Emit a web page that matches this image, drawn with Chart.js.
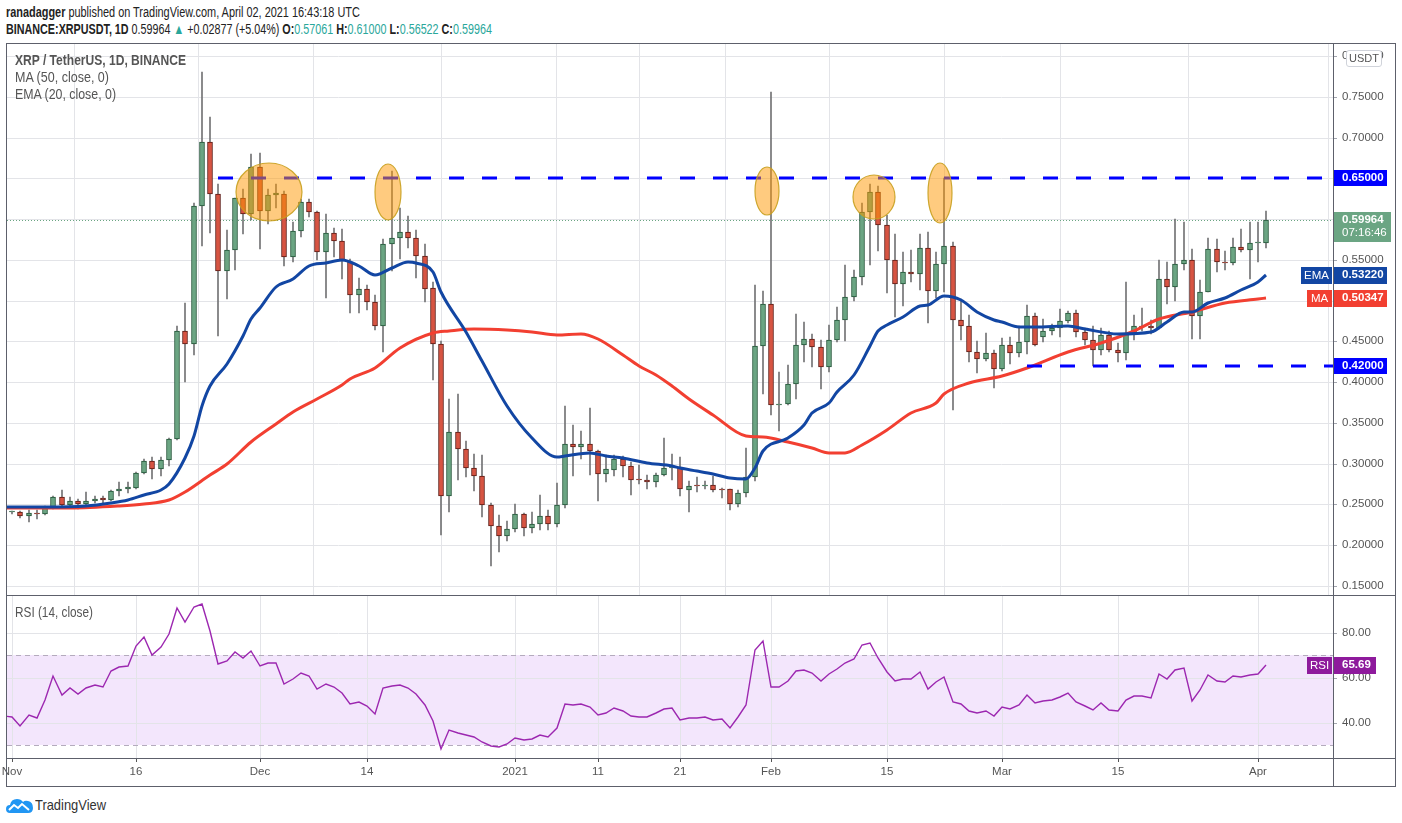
<!DOCTYPE html>
<html>
<head>
<meta charset="utf-8">
<script src="https://cdn.jsdelivr.net/npm/chart.js@4.4.1/dist/chart.umd.min.js"></script>
<style>
html, body { margin: 0; padding: 0; background: #fff; }
body { width: 1402px; height: 823px; position: relative; overflow: hidden;
  font-family: "Liberation Sans", Arial, sans-serif; color: #333; }
#head { position: absolute; left: 6px; top: 4px; font-size: 14px; line-height: 17px; color: #222; white-space: nowrap; }
#head div { display: inline-block; transform-origin: 0 0; }
.b { font-weight: bold; }
.t { color: #2aa79b; }
canvas { position: absolute; left: 0; }
#main { top: 44px; }
#rsi { top: 596px; }
.ln { position: absolute; background: #5d606b; }
.lbl { position: absolute; left: 15px; font-size: 14px; line-height: 17px; color: #555; white-space: nowrap; transform-origin: 0 0; }
#usdt { position: absolute; left: 1346px; top: 50px; width: 34px; height: 15px; border: 1px solid #d0d3da; border-radius: 3px;
  background: #fff; font: 11px "Liberation Sans", sans-serif; color: #555; text-align: center; line-height: 15px; }
#logo { position: absolute; left: 6px; top: 796px; font-size: 15px; color: #333; line-height: 17px; }
#logo svg { vertical-align: -3px; margin-right: 2px; }
#logo span { display: inline-block; transform-origin: 0 0; }
</style>
</head>
<body>
<div id="head">
  <div data-w="354"><span class="b">ranadagger</span> published on TradingView.com, April 02, 2021 16:43:18 UTC</div><br>
  <div data-w="486"><span class="b">BINANCE:XRPUSDT, 1D</span> 0.59964 <span class="t">▲</span> +0.02877 (+5.04%) <span class="b">O:</span><span class="t">0.57061</span> <span class="b">H:</span><span class="t">0.61000</span> <span class="b">L:</span><span class="t">0.56522</span> <span class="b">C:</span><span class="t">0.59964</span></div>
</div>

<canvas id="main" width="1402" height="552"></canvas>
<canvas id="rsi" width="1402" height="190"></canvas>

<div class="ln" style="left:6px;top:43px;width:1390px;height:1px"></div>
<div class="ln" style="left:6px;top:786px;width:1390px;height:1px"></div>
<div class="ln" style="left:6px;top:43px;width:1px;height:744px"></div>
<div class="ln" style="left:1395px;top:43px;width:1px;height:744px"></div>
<div class="ln" style="left:1333px;top:43px;width:1px;height:744px"></div>
<div class="ln" style="left:6px;top:595px;width:1390px;height:1px"></div>
<div class="ln" style="left:6px;top:758px;width:1390px;height:1px"></div>

<div class="lbl b" data-w="171" style="top:52px">XRP / TetherUS, 1D, BINANCE</div>
<div class="lbl" data-w="94" style="top:69px">MA (50, close, 0)</div>
<div class="lbl" data-w="101" style="top:86px">EMA (20, close, 0)</div>
<div class="lbl" data-w="78" style="top:604px">RSI (14, close)</div>
<div id="usdt">USDT</div>
<div id="logo"><svg width="27" height="16" viewBox="0 0 27 16"><path d="M4 16 Q0 16 0 12 Q0 8 4 8 Q5 2 11 2 Q15 2 17 5 Q19 3 22 4 Q27 5 27 11 Q27 16 22 16 Z" fill="#2196f3"/><path d="M3 13 L8 8 L12 11 L16 7 L23 13" stroke="#fff" stroke-width="2" fill="none"/></svg><span data-w="71">TradingView</span></div>

<script>
// days counted from Nov 1 2020 (= 0); Apr 2 2021 = 152
const opens = [
  0.2402, 0.2407, 0.2360, 0.2398, 0.2385, 0.2459, 0.2592, 0.2489, 0.2545, 0.2502,
  0.2541, 0.2575, 0.2557, 0.2665, 0.2695, 0.2704, 0.2889, 0.3039, 0.2932, 0.3048,
  0.3306, 0.4630, 0.4467, 0.6157, 0.6943, 0.6307, 0.5361, 0.5628, 0.6255, 0.6062,
  0.6642, 0.6105, 0.6294, 0.6307, 0.5533, 0.5851, 0.6208, 0.6083, 0.5598, 0.5834,
  0.5735, 0.5481, 0.5069, 0.5142, 0.4983, 0.4690, 0.5692, 0.5770, 0.5843, 0.5770,
  0.5554, 0.5155, 0.4467, 0.2600, 0.3392, 0.3181, 0.2949, 0.2846, 0.2493, 0.2231,
  0.2115, 0.2201, 0.2385, 0.2213, 0.2261, 0.2360, 0.2261, 0.2493, 0.3241, 0.3202,
  0.3241, 0.3155, 0.2876, 0.2919, 0.3061, 0.2974, 0.2811, 0.2802, 0.2777, 0.2863,
  0.2949, 0.2962, 0.2678, 0.2725, 0.2725, 0.2738, 0.2691, 0.2691, 0.2502, 0.2643,
  0.2833, 0.4445, 0.4961, 0.3718, 0.3727, 0.3976, 0.4458, 0.4531, 0.4428, 0.4187,
  0.4514, 0.4768, 0.5047, 0.5288, 0.6092, 0.6337, 0.5929, 0.5499, 0.5206, 0.5357,
  0.5327, 0.5645, 0.5120, 0.5451, 0.5671, 0.4768, 0.4694, 0.4372, 0.4286, 0.4359,
  0.4166, 0.4458, 0.4359, 0.4492, 0.4811, 0.4553, 0.4630, 0.4664, 0.4750, 0.4854,
  0.4617, 0.4514, 0.4393, 0.4578, 0.4393, 0.4363, 0.4600, 0.4695, 0.4695, 0.4664,
  0.5266, 0.5167, 0.5447, 0.5499, 0.4811, 0.5112, 0.5632, 0.5477, 0.5460, 0.5658,
  0.5619, 0.5705, 0.57061
];
const highs = [
  0.2420, 0.2416, 0.2437, 0.2437, 0.2480, 0.2609, 0.2682, 0.2588, 0.2566, 0.2652,
  0.2609, 0.2609, 0.2673, 0.2781, 0.2781, 0.2901, 0.3061, 0.3082, 0.3082, 0.3319,
  0.4695, 0.4974, 0.6200, 0.7803, 0.7253, 0.6436, 0.5868, 0.6264, 0.6372, 0.6802,
  0.6814, 0.6372, 0.6427, 0.6350, 0.5963, 0.6243, 0.6243, 0.6105, 0.6062, 0.5890,
  0.5877, 0.5512, 0.5275, 0.5189, 0.5069, 0.5761, 0.6587, 0.6135, 0.6036, 0.5864,
  0.5692, 0.5232, 0.4501, 0.3791, 0.3856, 0.3284, 0.3125, 0.3112, 0.2523, 0.2373,
  0.2299, 0.2510, 0.2394, 0.2403, 0.2622, 0.2437, 0.2759, 0.3714, 0.3478, 0.3405,
  0.3684, 0.3168, 0.3112, 0.3112, 0.3095, 0.3026, 0.2983, 0.2867, 0.2889, 0.3310,
  0.3125, 0.3082, 0.2790, 0.2833, 0.2790, 0.2846, 0.2704, 0.2695, 0.2673, 0.3190,
  0.5189, 0.5116, 0.7563, 0.4123, 0.4209, 0.4832, 0.4738, 0.4587, 0.4522, 0.4707,
  0.4922, 0.5434, 0.5374, 0.6200, 0.6436, 0.6414, 0.6049, 0.5813, 0.5598, 0.5619,
  0.5825, 0.5843, 0.5598, 0.6509, 0.5718, 0.5017, 0.4824, 0.4510, 0.4609, 0.4393,
  0.4544, 0.4553, 0.4695, 0.4953, 0.4854, 0.4780, 0.4716, 0.4897, 0.4875, 0.4888,
  0.4664, 0.4695, 0.4664, 0.4630, 0.4479, 0.5232, 0.4824, 0.4910, 0.4759, 0.5503,
  0.5481, 0.5997, 0.5972, 0.5632, 0.5254, 0.5770, 0.5761, 0.5610, 0.5770, 0.5877,
  0.5963, 0.5963, 0.61000
];
const lows = [
  0.2388, 0.2330, 0.2287, 0.2325, 0.2368, 0.2446, 0.2459, 0.2471, 0.2446, 0.2480,
  0.2523, 0.2523, 0.2545, 0.2609, 0.2643, 0.2686, 0.2876, 0.2815, 0.2846, 0.2974,
  0.3297, 0.4007, 0.4329, 0.5675, 0.5834, 0.4565, 0.5026, 0.5383, 0.5821, 0.5985,
  0.5636, 0.5942, 0.6144, 0.5421, 0.5481, 0.5782, 0.6027, 0.5499, 0.5038, 0.5533,
  0.5262, 0.4854, 0.4854, 0.4888, 0.4639, 0.4372, 0.5361, 0.5512, 0.5653, 0.5284,
  0.4983, 0.4028, 0.2123, 0.2407, 0.2798, 0.2833, 0.2661, 0.2342, 0.1749, 0.1921,
  0.2050, 0.2157, 0.2115, 0.2149, 0.2192, 0.2192, 0.2222, 0.2459, 0.2846, 0.3061,
  0.2867, 0.2545, 0.2772, 0.2846, 0.2833, 0.2618, 0.2747, 0.2695, 0.2717, 0.2846,
  0.2802, 0.2600, 0.2407, 0.2652, 0.2686, 0.2652, 0.2575, 0.2437, 0.2467, 0.2588,
  0.2790, 0.3856, 0.3598, 0.3405, 0.3718, 0.3791, 0.4243, 0.4191, 0.3912, 0.4127,
  0.4492, 0.4501, 0.4996, 0.5189, 0.5434, 0.5606, 0.5094, 0.4802, 0.4931, 0.5232,
  0.5133, 0.4725, 0.5038, 0.5103, 0.3663, 0.4514, 0.4243, 0.4114, 0.4264, 0.3929,
  0.4135, 0.4221, 0.4307, 0.4351, 0.4440, 0.4492, 0.4578, 0.4553, 0.4725, 0.4553,
  0.4458, 0.4200, 0.4329, 0.4372, 0.4243, 0.4277, 0.4522, 0.4630, 0.4595, 0.4651,
  0.4965, 0.4996, 0.5374, 0.4531, 0.4535, 0.5103, 0.5352, 0.5383, 0.5438, 0.5598,
  0.5262, 0.5481, 0.56522
];
const closes = [
  0.2405, 0.2360, 0.2398, 0.2385, 0.2459, 0.2592, 0.2489, 0.2541, 0.2502, 0.2541,
  0.2570, 0.2557, 0.2665, 0.2695, 0.2712, 0.2889, 0.3039, 0.2932, 0.3048, 0.3306,
  0.4630, 0.4467, 0.6157, 0.6943, 0.6307, 0.5361, 0.5619, 0.6255, 0.6062, 0.6642,
  0.6105, 0.6294, 0.6316, 0.5533, 0.5851, 0.6208, 0.6083, 0.5598, 0.5834, 0.5727,
  0.5499, 0.5069, 0.5142, 0.4983, 0.4690, 0.5692, 0.5770, 0.5843, 0.5770, 0.5554,
  0.5142, 0.4467, 0.2600, 0.3392, 0.3181, 0.2949, 0.2846, 0.2493, 0.2231, 0.2115,
  0.2201, 0.2385, 0.2213, 0.2261, 0.2360, 0.2261, 0.2493, 0.3241, 0.3202, 0.3241,
  0.3155, 0.2876, 0.2940, 0.3061, 0.2974, 0.2802, 0.2798, 0.2777, 0.2863, 0.2949,
  0.2966, 0.2691, 0.2729, 0.2722, 0.2738, 0.2678, 0.2678, 0.2502, 0.2643, 0.2833,
  0.4445, 0.4961, 0.3718, 0.3736, 0.3976, 0.4458, 0.4531, 0.4428, 0.4187, 0.4514,
  0.4768, 0.5047, 0.5288, 0.6092, 0.6337, 0.5929, 0.5499, 0.5206, 0.5357, 0.5327,
  0.5645, 0.5120, 0.5451, 0.5671, 0.4768, 0.4694, 0.4372, 0.4286, 0.4359, 0.4166,
  0.4458, 0.4359, 0.4492, 0.4811, 0.4458, 0.4630, 0.4664, 0.4750, 0.4854, 0.4617,
  0.4514, 0.4393, 0.4578, 0.4393, 0.4363, 0.4600, 0.4695, 0.4682, 0.4664, 0.5266,
  0.5167, 0.5447, 0.5499, 0.4811, 0.5112, 0.5632, 0.5477, 0.5460, 0.5658, 0.5619,
  0.5705, 0.5709, 0.59964
];

// EMA 20 and MA 50 (day, value)
const emaDays = [-1, 4, 9, 12, 14, 16, 18, 19, 21, 22, 23, 24, 26, 28, 29, 30, 32, 34, 36, 38,
  40, 42, 44, 46, 48, 49, 51, 52, 55, 57, 60, 63, 66, 67, 70, 72, 74, 77, 80, 81,
  83, 85, 87, 89, 90, 91, 94, 96, 97, 99, 100, 102, 104, 105, 106, 108, 110, 111, 113, 115,
  117, 119, 120, 122, 124, 128, 130, 134, 138, 140, 142, 143, 145, 147, 149, 151, 152];
const emaValues = [0.2467, 0.2467, 0.2480, 0.2514, 0.2550, 0.2615, 0.2680, 0.2747, 0.3073, 0.3340,
  0.3714, 0.3951, 0.4222, 0.4565, 0.4780, 0.4910, 0.5168, 0.5262, 0.5421, 0.5469,
  0.5499, 0.5426, 0.5318, 0.5396, 0.5477, 0.5469, 0.5352, 0.5103, 0.4620, 0.4260,
  0.3706, 0.3320, 0.3082, 0.3095, 0.3134, 0.3095, 0.3073, 0.3005, 0.2975, 0.2944,
  0.2910, 0.2876, 0.2824, 0.2811, 0.2953, 0.3160, 0.3310, 0.3480, 0.3620, 0.3740,
  0.3880, 0.4093, 0.4440, 0.4630, 0.4707, 0.4802, 0.4931, 0.4953, 0.5060, 0.5009,
  0.4867, 0.4768, 0.4738, 0.4682, 0.4682, 0.4695, 0.4652, 0.4596, 0.4617, 0.4738,
  0.4866, 0.4866, 0.4974, 0.5039, 0.5137, 0.5232, 0.5322];
const maDays = [-1, 7, 13, 16, 19, 21, 24, 26, 29, 32, 34, 37, 40, 41, 44, 47, 51, 53, 56, 60,
  63, 66, 69, 71, 74, 76, 78, 80, 82, 85, 89, 91, 94, 97, 99, 101, 103, 106, 109, 112,
  113, 116, 120, 123, 128, 132, 136, 139, 143, 147, 151, 152];
const maValues = [0.2459, 0.2459, 0.2480, 0.2502, 0.2553, 0.2652, 0.2867, 0.2996, 0.3263, 0.3491,
  0.3633, 0.3790, 0.3970, 0.4041, 0.4179, 0.4420, 0.4600, 0.4630, 0.4652, 0.4638,
  0.4617, 0.4578, 0.4587, 0.4531, 0.4329, 0.4200, 0.4085, 0.3950, 0.3800, 0.3598,
  0.3340, 0.3331, 0.3263, 0.3190, 0.3130, 0.3134, 0.3232, 0.3417, 0.3620, 0.3749,
  0.3860, 0.3990, 0.4071, 0.4180, 0.4372, 0.4479, 0.4630, 0.4780, 0.4866, 0.4974,
  0.5026, 0.50347];

// RSI 14, one value per day starting Oct 31 (day -1)
const RSI_FIRST_DAY = -1;
const rsiValues = [42.9,
  42.7, 38.5, 43.7, 42.1, 50.4, 60.7, 52.6, 55.6, 53.0, 55.6,
  56.7, 56.0, 63.3, 64.7, 65.5, 74.1, 78.4, 70.2, 73.6, 79.6,
  91.1, 84.9, 91.4, 92.9, 80.7, 66.2, 67.7, 71.4, 68.9, 72.0,
  65.5, 66.5, 66.5, 57.3, 59.6, 62.2, 60.7, 55.1, 57.2, 56.0,
  53.3, 48.6, 49.3, 47.4, 44.2, 55.4, 56.3, 56.7, 55.7, 53.0,
  47.9, 41.0, 28.6, 37.0, 35.6, 34.5, 33.6, 31.6, 29.9, 29.3,
  30.7, 33.3, 32.3, 33.0, 34.5, 33.8, 37.8, 48.5, 47.9, 48.5,
  47.1, 43.7, 44.6, 46.7, 45.2, 43.0, 42.8, 42.7, 44.5, 46.2,
  46.5, 41.3, 42.2, 42.2, 42.7, 41.5, 41.6, 37.8, 42.5, 47.9,
  72.6, 76.3, 56.2, 56.2, 58.5, 63.1, 63.6, 62.2, 58.5, 61.8,
  64.2, 66.5, 68.6, 74.5, 75.7, 68.9, 62.7, 58.5, 59.7, 59.4,
  62.5, 55.3, 58.2, 60.5, 49.3, 48.5, 45.2, 44.3, 45.2, 43.0,
  47.1, 46.1, 47.9, 52.3, 48.8, 49.8, 50.2, 51.6, 53.2, 49.2,
  47.6, 45.6, 48.9, 45.8, 45.3, 50.1, 52.0, 51.9, 51.3, 61.8,
  59.6, 63.7, 64.4, 49.9, 54.7, 61.5, 58.8, 58.4, 61.0, 60.3,
  61.5, 61.6, 65.69];

// axes
const tickDays = [0, 15, 30, 43, 61, 71, 81, 92, 106, 120, 134, 151];
const tickLabels = ['Nov', '16', 'Dec', '14', '2021', '11', '21', 'Feb', '15', 'Mar', '15', 'Apr'];
const priceTicks = [0.15, 0.20, 0.25, 0.30, 0.35, 0.40, 0.45, 0.50, 0.55, 0.60, 0.65, 0.70, 0.75, 0.80];
const rsiTicks = [40, 60, 80];

// drawn levels and highlighted touches
const levelPrices = [0.65, 0.42];
const levelStartDays = [25, 123];
const ellipseDays = [31.1, 45.6, 91.5, 104.5, 112.45];
const ellipsePrices = [0.6335, 0.6337, 0.6346, 0.6270, 0.6326];
const ellipseDayRadii = [4.0, 1.5, 1.5, 2.5, 1.5];
const ellipsePriceRadii = [0.0356, 0.0340, 0.0297, 0.0273, 0.0359];

const X_MIN = -0.62, X_MAX = 160.12;
const UP = '#6ba583', UP_LINE = '#225437', DOWN = '#d75442', DOWN_LINE = '#5b1a13';
const EMA_COLOR = '#1246a3', MA_COLOR = '#f23f31', RSI_COLOR = '#9c27b0';
const GRID = '#e3e4e8';

// squeeze text blocks to the widths they have in the picture
document.querySelectorAll('[data-w]').forEach(el => {
  el.style.display = 'inline-block';
  const w = el.getBoundingClientRect().width;
  el.style.transform = 'scaleX(' + (Number(el.dataset.w) / w).toFixed(3) + ')';
});

Chart.defaults.font.family = '"Liberation Sans", Arial, sans-serif';
Chart.defaults.animation = false;

const days = closes.map((_, i) => i);
const lastClose = closes[closes.length - 1];

function box(ctx, x, yc, w, h, bg, lines, bold) {
  ctx.fillStyle = bg;
  ctx.fillRect(x, yc - 8, w, h);
  ctx.fillStyle = '#fff';
  ctx.textBaseline = 'middle';
  lines.forEach((t, i) => {
    ctx.font = (bold && i === 0 ? 'bold ' : '') + '11.5px "Liberation Sans", Arial, sans-serif';
    ctx.fillText(t, x + 8, yc + i * 13);
  });
}

const mainDecor = {
  id: 'mainDecor',
  beforeDatasetsDraw(chart) {
    const { ctx, chartArea: a, scales: { y } } = chart;
    const py = Math.round(y.getPixelForValue(lastClose)) + 0.5;
    ctx.save();
    ctx.strokeStyle = UP;
    ctx.lineWidth = 1;
    ctx.setLineDash([1, 2]);
    ctx.beginPath();
    ctx.moveTo(a.left, py);
    ctx.lineTo(a.right, py);
    ctx.stroke();
    ctx.restore();
  },
  afterDatasetsDraw(chart) {
    const { ctx, chartArea: a, scales: { x, y } } = chart;
    ctx.save();
    ctx.beginPath();
    ctx.rect(a.left, a.top, a.right - a.left, a.bottom - a.top);
    ctx.clip();
    ctx.strokeStyle = '#0000ff';
    ctx.lineWidth = 3;
    ctx.setLineDash([15, 18]);
    levelPrices.forEach((p, i) => {
      const py = Math.round(y.getPixelForValue(p));
      ctx.beginPath();
      ctx.moveTo(x.getPixelForValue(levelStartDays[i]), py);
      ctx.lineTo(a.right, py);
      ctx.stroke();
    });
    ctx.setLineDash([]);
    ellipseDays.forEach((d, i) => {
      const cx = x.getPixelForValue(d);
      const cy = y.getPixelForValue(ellipsePrices[i]);
      const rx = x.getPixelForValue(d + ellipseDayRadii[i]) - cx;
      const ry = cy - y.getPixelForValue(ellipsePrices[i] + ellipsePriceRadii[i]);
      ctx.beginPath();
      ctx.ellipse(cx, cy, rx, ry, 0, 0, Math.PI * 2);
      ctx.fillStyle = 'rgba(255, 152, 0, 0.5)';
      ctx.fill();
      ctx.strokeStyle = 'rgba(200, 160, 30, 0.9)';
      ctx.lineWidth = 1.2;
      ctx.stroke();
    });
    ctx.restore();
  },
  afterDraw(chart) {
    const { ctx, chartArea: a, scales: { y } } = chart;
    const r = a.right + 1;
    ctx.save();
    levelPrices.forEach(p => {
      box(ctx, r, y.getPixelForValue(p), 53, 16, '#0000ff', [p.toFixed(5)], true);
    });
    box(ctx, r, y.getPixelForValue(lastClose), 57, 30, UP, [lastClose.toFixed(5), '07:16:46'], true);
    const emaLast = emaValues[emaValues.length - 1];
    const maLast = maValues[maValues.length - 1];
    const ye = y.getPixelForValue(emaLast), ym = y.getPixelForValue(maLast);
    box(ctx, r, ye, 53, 17, EMA_COLOR, [emaLast.toFixed(5)], true);
    box(ctx, r, ym, 53, 17, MA_COLOR, [maLast.toFixed(5)], true);
    box(ctx, a.right - 32, ye, 31, 17, EMA_COLOR, [], false);
    box(ctx, a.right - 26, ym, 25, 17, MA_COLOR, [], false);
    ctx.fillStyle = '#fff';
    ctx.font = '11.5px "Liberation Sans", Arial, sans-serif';
    ctx.textAlign = 'center';
    ctx.fillText('EMA', a.right - 16.5, ye + 0.5);
    ctx.fillText('MA', a.right - 13.5, ym + 0.5);
    ctx.restore();
  }
};

new Chart(document.getElementById('main'), {
  type: 'bar',
  data: {
    datasets: [
      {
        type: 'line', label: 'EMA (20)', order: 1,
        data: emaDays.map((d, i) => ({ x: d, y: emaValues[i] })),
        borderColor: EMA_COLOR, borderWidth: 3, pointRadius: 0, cubicInterpolationMode: 'monotone'
      },
      {
        type: 'line', label: 'MA (50)', order: 1,
        data: maDays.map((d, i) => ({ x: d, y: maValues[i] })),
        borderColor: MA_COLOR, borderWidth: 3, pointRadius: 0, cubicInterpolationMode: 'monotone'
      },
      {
        label: 'bodies', order: 2, grouped: false,
        data: days.map(i => ({ x: i, y: [opens[i], closes[i]] })),
        backgroundColor: days.map(i => closes[i] >= opens[i] ? UP : DOWN),
        borderColor: days.map(i => closes[i] >= opens[i] ? UP_LINE : DOWN_LINE),
        borderWidth: 1, borderSkipped: false, barThickness: 5, minBarLength: 1
      },
      {
        label: 'wicks', order: 3, grouped: false,
        data: days.map(i => ({ x: i, y: [lows[i], highs[i]] })),
        backgroundColor: '#737375', barThickness: 1
      }
    ]
  },
  options: {
    responsive: false,
    events: [],
    layout: { padding: { left: 7, right: 0, top: 0, bottom: 0 } },
    plugins: { legend: { display: false }, tooltip: { enabled: false } },
    scales: {
      x: {
        type: 'linear', min: X_MIN, max: X_MAX, offset: false, alignToPixels: true,
        afterBuildTicks: s => { s.ticks = tickDays.map(v => ({ value: v })); },
        ticks: { display: false },
        grid: { color: GRID, drawTicks: false },
        border: { display: false },
        afterFit: s => { s.height = 0; s.paddingLeft = 0; s.paddingRight = 0; }
      },
      y: {
        type: 'linear', position: 'right', min: 0.13773, max: 0.81503, alignToPixels: true,
        afterBuildTicks: s => { s.ticks = priceTicks.map(v => ({ value: v })); },
        ticks: { callback: v => v.toFixed(5), color: '#555', font: { size: 11.5 }, padding: 5 },
        grid: { color: GRID, tickLength: 4, tickColor: '#a3a6af' },
        border: { display: false },
        afterFit: s => { s.width = 69; s.paddingTop = 0; s.paddingBottom = 0; }
      }
    }
  },
  plugins: [mainDecor]
});

const rsiDecor = {
  id: 'rsiDecor',
  beforeDraw(chart) {
    const { ctx, chartArea: a, scales: { y } } = chart;
    const y70 = y.getPixelForValue(70), y30 = y.getPixelForValue(30);
    ctx.save();
    ctx.fillStyle = '#f3e6fc';
    ctx.fillRect(a.left, y70, a.right - a.left, y30 - y70);
    ctx.restore();
  },
  beforeDatasetsDraw(chart) {
    const { ctx, chartArea: a, scales: { y } } = chart;
    ctx.save();
    ctx.strokeStyle = '#b4abbd';
    ctx.lineWidth = 1;
    ctx.setLineDash([5, 4]);
    [70, 30].forEach(v => {
      const py = Math.round(y.getPixelForValue(v)) + 0.5;
      ctx.beginPath();
      ctx.moveTo(a.left, py);
      ctx.lineTo(a.right, py);
      ctx.stroke();
    });
    ctx.restore();
  },
  afterDraw(chart) {
    const { ctx, chartArea: a, scales: { y } } = chart;
    const last = rsiValues[rsiValues.length - 1];
    const py = y.getPixelForValue(last);
    ctx.save();
    box(ctx, a.right + 1, py, 42, 17, '#8e1a9c', [last.toFixed(2)], true);
    box(ctx, a.right - 26, py, 25, 17, '#8e1a9c', [], false);
    ctx.fillStyle = '#fff';
    ctx.font = '11.5px "Liberation Sans", Arial, sans-serif';
    ctx.textAlign = 'center';
    ctx.fillText('RSI', a.right - 13.5, py + 0.5);
    ctx.restore();
  }
};

new Chart(document.getElementById('rsi'), {
  type: 'line',
  data: {
    datasets: [{
      label: 'RSI', data: rsiValues.map((v, i) => ({ x: RSI_FIRST_DAY + i, y: v })),
      borderColor: RSI_COLOR, borderWidth: 1.4, pointRadius: 0, tension: 0
    }]
  },
  options: {
    responsive: false,
    events: [],
    layout: { padding: { left: 7, right: 0, top: 0, bottom: 0 } },
    plugins: { legend: { display: false }, tooltip: { enabled: false } },
    scales: {
      x: {
        type: 'linear', min: X_MIN, max: X_MAX, offset: false, alignToPixels: true,
        afterBuildTicks: s => { s.ticks = tickDays.map(v => ({ value: v })); },
        ticks: { callback: (v, i) => tickLabels[i], color: '#555', font: { size: 11.5 }, padding: 3, autoSkip: false, maxRotation: 0 },
        grid: { color: GRID, tickLength: 4, tickColor: '#555' },
        border: { display: false },
        afterFit: s => { s.height = 28; s.paddingLeft = 0; s.paddingRight = 0; }
      },
      y: {
        type: 'linear', position: 'right', min: 24.44, max: 96.44, alignToPixels: true,
        afterBuildTicks: s => { s.ticks = rsiTicks.map(v => ({ value: v })); },
        ticks: { callback: v => v.toFixed(2), color: '#555', font: { size: 11.5 }, padding: 5 },
        grid: { color: GRID, tickLength: 4, tickColor: '#a3a6af' },
        border: { display: false },
        afterFit: s => { s.width = 69; s.paddingTop = 0; s.paddingBottom = 0; }
      }
    }
  },
  plugins: [rsiDecor]
});
</script>
</body>
</html>
